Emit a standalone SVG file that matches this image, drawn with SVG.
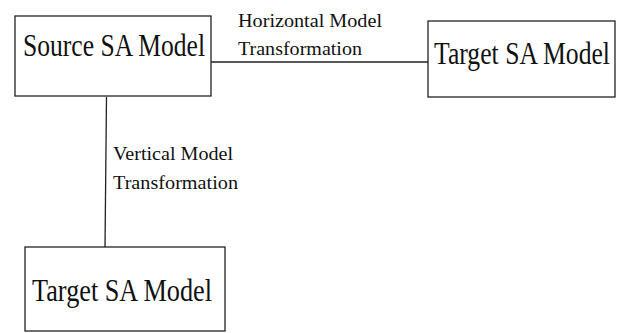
<svg xmlns="http://www.w3.org/2000/svg" width="622" height="333" viewBox="0 0 622 333">
<style>
.box{fill:#fff;stroke:#222;stroke-width:1.3}
.big{font-family:"Liberation Serif","Times New Roman",serif;font-size:31px;fill:#111}
.lbl{font-family:"Liberation Serif","Times New Roman",serif;font-size:19px;fill:#111}
.conn{stroke:#222;stroke-width:1.3;fill:none}
</style>
<rect width="622" height="333" fill="#fff"/>
<g id="connectors">
<line class="conn" x1="211" y1="62" x2="428" y2="62"/>
<line class="conn" x1="106.5" y1="97" x2="105" y2="247"/>
<text class="lbl" x="238" y="27" textLength="144" lengthAdjust="spacingAndGlyphs">Horizontal Model</text>
<text class="lbl" x="238" y="55" textLength="124" lengthAdjust="spacingAndGlyphs">Transformation</text>
<text class="lbl" x="113" y="160" textLength="120" lengthAdjust="spacingAndGlyphs">Vertical Model</text>
<text class="lbl" x="113" y="189" textLength="125" lengthAdjust="spacingAndGlyphs">Transformation</text>
</g>
<g id="source">
<rect class="box" x="15" y="16" width="196" height="80"/>
<text class="big" x="23" y="56" textLength="182" lengthAdjust="spacingAndGlyphs">Source SA Model</text>
</g>
<g id="target-h">
<rect class="box" x="428" y="21" width="187" height="76"/>
<text class="big" x="434" y="64" textLength="176" lengthAdjust="spacingAndGlyphs">Target SA Model</text>
</g>
<g id="target-v">
<rect class="box" x="25" y="247" width="200" height="84"/>
<text class="big" x="32" y="301" textLength="180" lengthAdjust="spacingAndGlyphs">Target SA Model</text>
</g>
</svg>
